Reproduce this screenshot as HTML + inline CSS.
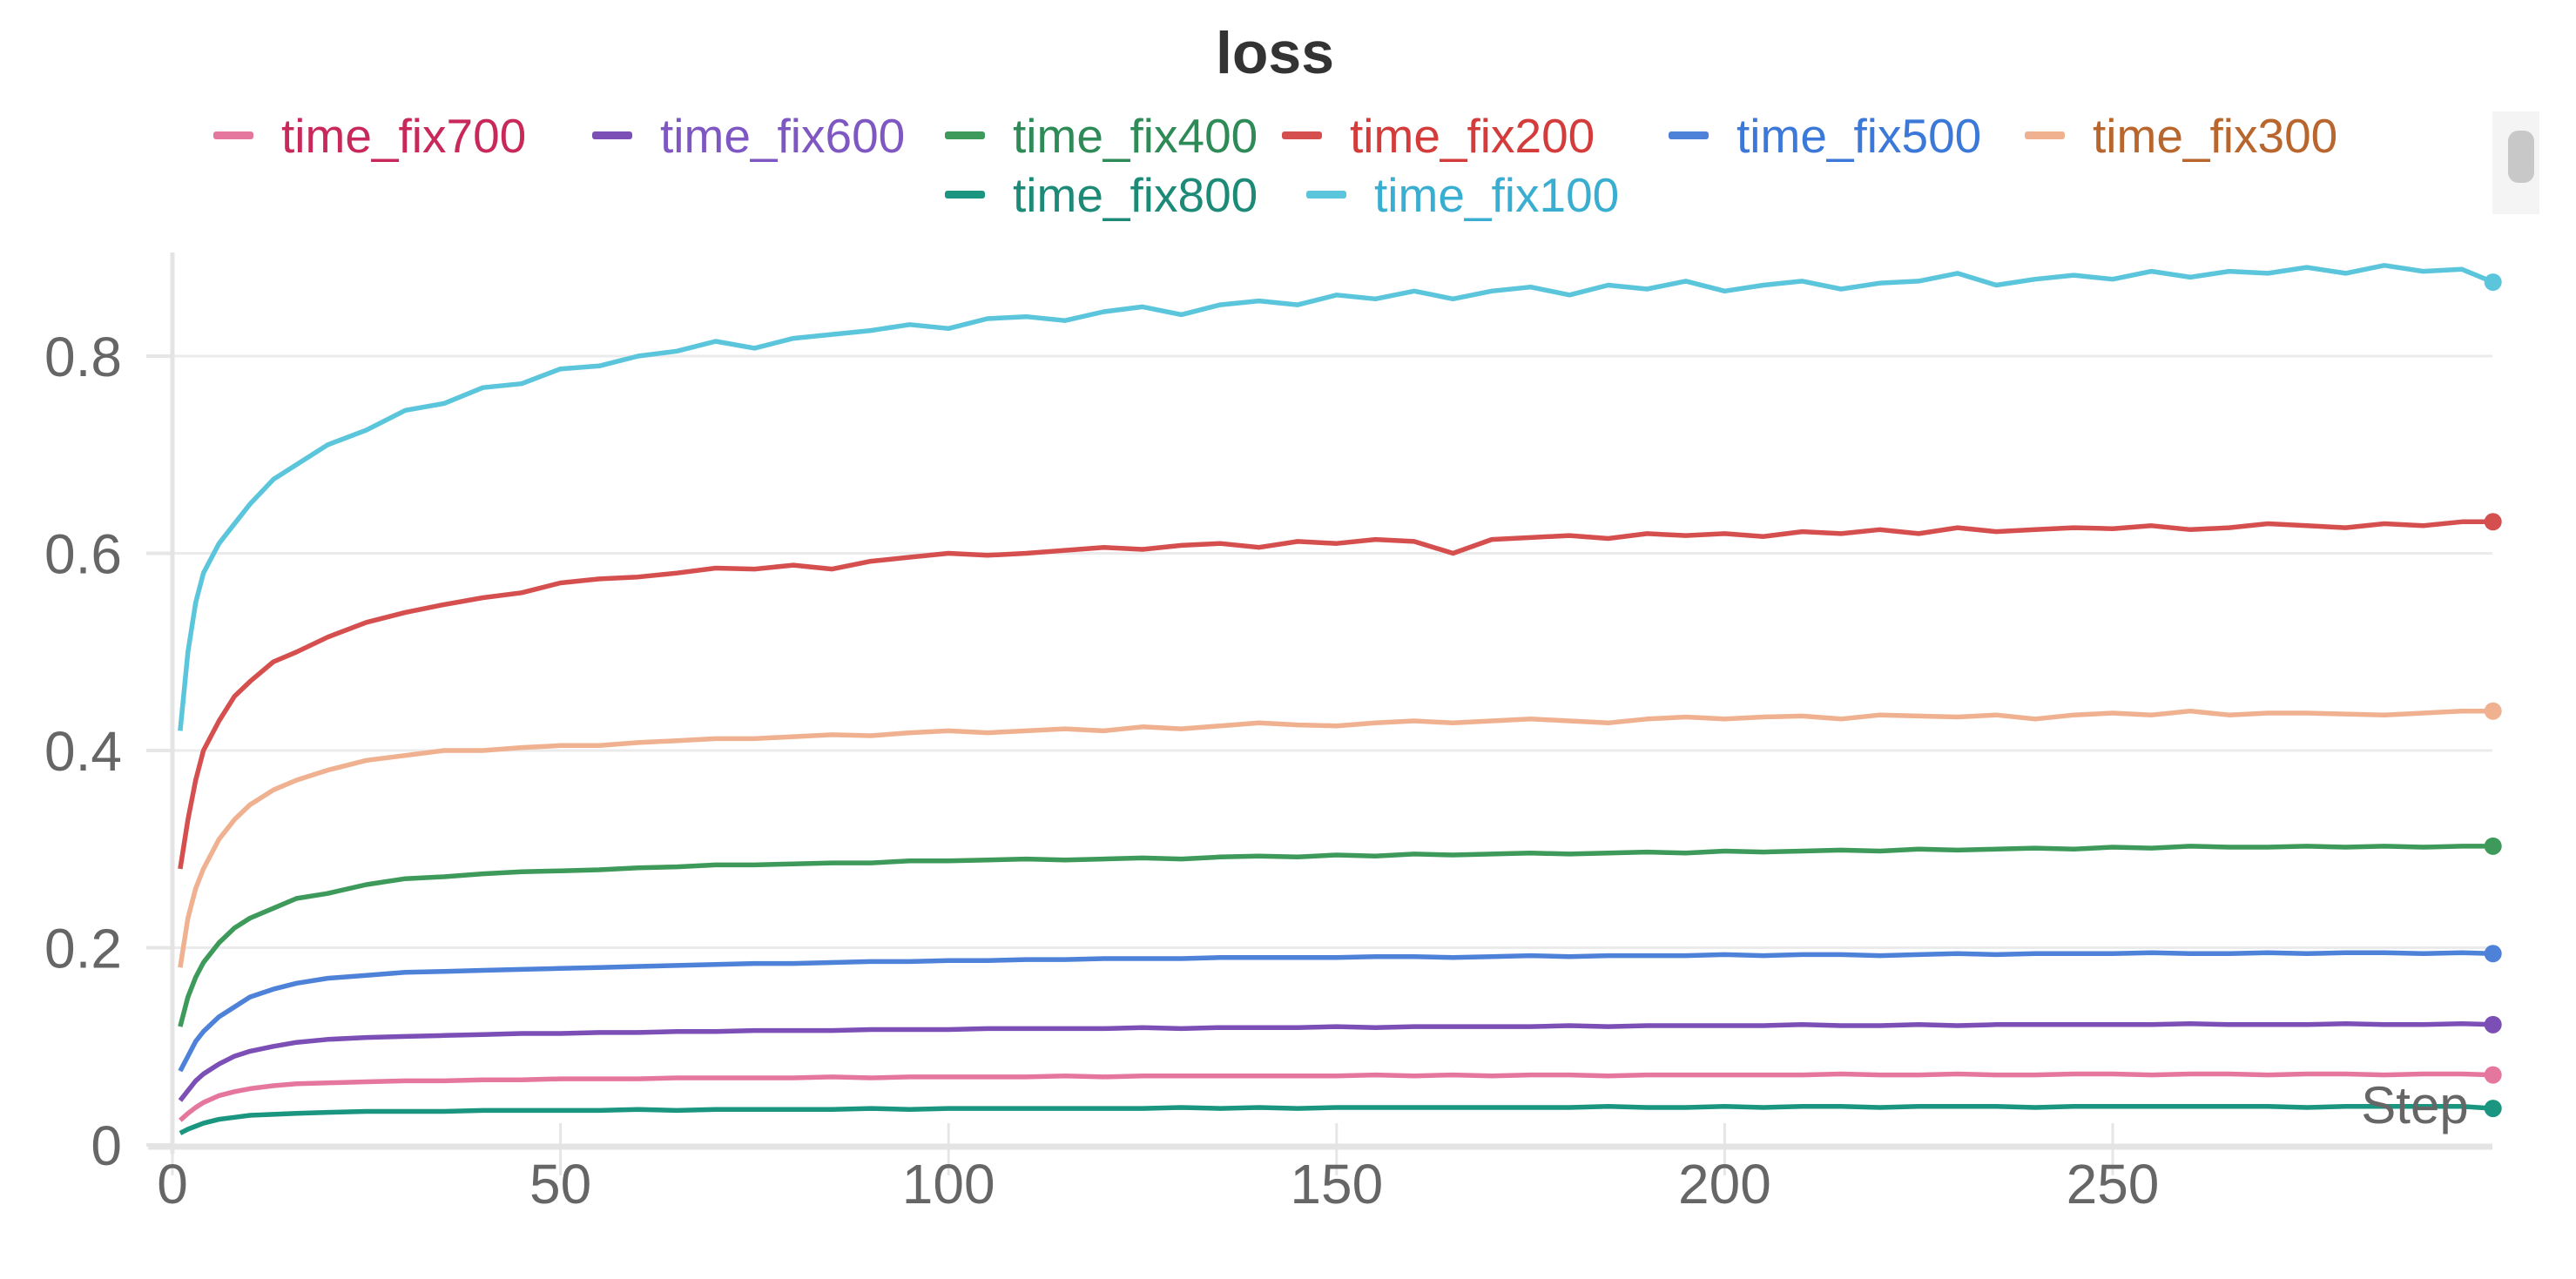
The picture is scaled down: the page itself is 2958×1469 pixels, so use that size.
<!DOCTYPE html>
<html><head><meta charset="utf-8"><style>
html,body{margin:0;padding:0;background:#fff;width:2958px;height:1469px;overflow:hidden}
svg{display:block}
text{font-family:"Liberation Sans",sans-serif}
</style></head><body>
<svg id="chart" width="2958" height="1469" viewBox="0 0 2958 1469" xmlns="http://www.w3.org/2000/svg">
<text x="1464" y="84" text-anchor="middle" font-size="68" font-weight="bold" fill="#333">loss</text>
<g id="legend"></g>
<g>
<rect x="2862" y="128" width="54" height="118" fill="#f4f4f4"/>
<rect x="2880" y="150" width="30" height="60" rx="12" fill="#c8c8c8"/>
</g>
<g id="grid"></g>
<g id="axes"></g>
<g id="series"></g>
<text x="2773" y="1290" text-anchor="middle" font-size="60" fill="#666">Step</text>
</svg>
<script>
const steps=[1,2,3,4,6,8,10,13,16,20,25,30,35,40,45,50,55,60,65,70,75,80,85,90,95,100,105,110,115,120,125,130,135,140,145,150,155,160,165,170,175,180,185,190,195,200,205,210,215,220,225,230,235,240,245,250,255,260,265,270,275,280,285,290,295,299];
const fix100=[.42,.50,.55,.58,.61,.63,.65,.675,.69,.71,.725,.745,.752,.768,.772,.787,.79,.80,.805,.815,.808,.818,.822,.826,.832,.828,.838,.84,.836,.845,.85,.842,.852,.856,.852,.862,.858,.866,.858,.866,.87,.862,.872,.868,.876,.866,.872,.876,.868,.874,.876,.884,.872,.878,.882,.878,.886,.88,.886,.884,.89,.884,.892,.886,.888,.875];
const fix200=[.28,.33,.37,.40,.43,.455,.47,.49,.50,.515,.53,.54,.548,.555,.56,.57,.574,.576,.58,.585,.584,.588,.584,.592,.596,.60,.598,.60,.603,.606,.604,.608,.61,.606,.612,.61,.614,.612,.60,.614,.616,.618,.615,.62,.618,.62,.617,.622,.62,.624,.62,.626,.622,.624,.626,.625,.628,.624,.626,.63,.628,.626,.63,.628,.632,.632];
const fix300=[.18,.23,.26,.28,.31,.33,.345,.36,.37,.38,.39,.395,.40,.40,.403,.405,.405,.408,.41,.412,.412,.414,.416,.415,.418,.42,.418,.42,.422,.42,.424,.422,.425,.428,.426,.425,.428,.43,.428,.43,.432,.43,.428,.432,.434,.432,.434,.435,.432,.436,.435,.434,.436,.432,.436,.438,.436,.44,.436,.438,.438,.437,.436,.438,.44,.44];
const fix400=[.12,.15,.17,.185,.205,.22,.23,.24,.25,.255,.264,.27,.272,.275,.277,.278,.279,.281,.282,.284,.284,.285,.286,.286,.288,.288,.289,.29,.289,.29,.291,.29,.292,.293,.292,.294,.293,.295,.294,.295,.296,.295,.296,.297,.296,.298,.297,.298,.299,.298,.30,.299,.30,.301,.30,.302,.301,.303,.302,.302,.303,.302,.303,.302,.303,.303];
const fix500=[.075,.09,.105,.115,.13,.14,.15,.158,.164,.169,.172,.175,.176,.177,.178,.179,.18,.181,.182,.183,.184,.184,.185,.186,.186,.187,.187,.188,.188,.189,.189,.189,.19,.19,.19,.19,.191,.191,.19,.191,.192,.191,.192,.192,.192,.193,.192,.193,.193,.192,.193,.194,.193,.194,.194,.194,.195,.194,.194,.195,.194,.195,.195,.194,.195,.194];
const fix600=[.045,.055,.065,.072,.082,.09,.095,.1,.104,.107,.109,.11,.111,.112,.113,.113,.114,.114,.115,.115,.116,.116,.116,.117,.117,.117,.118,.118,.118,.118,.119,.118,.119,.119,.119,.12,.119,.12,.12,.12,.12,.121,.12,.121,.121,.121,.121,.122,.121,.121,.122,.121,.122,.122,.122,.122,.122,.123,.122,.122,.122,.123,.122,.122,.123,.122];
const fix700=[.025,.032,.038,.043,.05,.054,.057,.06,.062,.063,.064,.065,.065,.066,.066,.067,.067,.067,.068,.068,.068,.068,.069,.068,.069,.069,.069,.069,.07,.069,.07,.07,.07,.07,.07,.07,.071,.07,.071,.07,.071,.071,.07,.071,.071,.071,.071,.071,.072,.071,.071,.072,.071,.071,.072,.072,.071,.072,.072,.071,.072,.072,.071,.072,.072,.071];
const fix800=[.012,.016,.019,.022,.026,.028,.03,.031,.032,.033,.034,.034,.034,.035,.035,.035,.035,.036,.035,.036,.036,.036,.036,.037,.036,.037,.037,.037,.037,.037,.037,.038,.037,.038,.037,.038,.038,.038,.038,.038,.038,.038,.039,.038,.038,.039,.038,.039,.039,.038,.039,.039,.039,.038,.039,.039,.039,.039,.039,.039,.038,.039,.039,.039,.039,.037];
const seriesNames=["time_fix700","time_fix600","time_fix400","time_fix200","time_fix500","time_fix300","time_fix800","time_fix100"];
const yTicks=[0,0.2,0.4,0.6,0.8];
const xTicks=[0,50,100,150,200,250];

const NS="http://www.w3.org/2000/svg";
const X0=198,XPX=8.912,Y0=1315,YPX=1132.5;
const xs=v=>X0+v*XPX, ys=v=>Y0-v*YPX;
function mk(tag,attrs,parent){const e=document.createElementNS(NS,tag);for(const k in attrs)e.setAttribute(k,attrs[k]);parent.appendChild(e);return e;}
const styles={
 time_fix700:{data:fix700,line:"#e5779e",text:"#c8285a"},
 time_fix600:{data:fix600,line:"#7b4fb5",text:"#7e57c2"},
 time_fix400:{data:fix400,line:"#3d9a5a",text:"#2e8b57"},
 time_fix200:{data:fix200,line:"#d64f4f",text:"#d43b3b"},
 time_fix500:{data:fix500,line:"#4e82d9",text:"#3b78d8"},
 time_fix300:{data:fix300,line:"#efb18f",text:"#b8662e"},
 time_fix800:{data:fix800,line:"#1a9580",text:"#1d8a78"},
 time_fix100:{data:fix100,line:"#5bc5db",text:"#3aaed0"}
};
const grid=document.getElementById('grid'),axes=document.getElementById('axes'),ser=document.getElementById('series'),leg=document.getElementById('legend');
yTicks.forEach(t=>{
 if(t>0){const g=mk('line',{x1:X0,x2:2862,y1:ys(t),y2:ys(t),stroke:"#ebebeb","stroke-width":3},grid);
 
 }
 const tk=mk('line',{x1:168,x2:X0,y1:ys(t),y2:ys(t),stroke:"#e6e6e6","stroke-width":4},axes);
 
 
 const lb=mk('text',{x:140,y:ys(t)+23,"text-anchor":"end","font-size":64,fill:"#666"},axes);
 lb.textContent=String(t);
 
 
});
xTicks.forEach(t=>{
 const tk=mk('line',{x1:xs(t),x2:xs(t),y1:Y0-25,y2:Y0+35,stroke:"#e6e6e6","stroke-width":3},axes);
 
 
 const lb=mk('text',{x:xs(t),y:1382,"text-anchor":"middle","font-size":64,fill:"#666"},axes);
 lb.textContent=String(t);
 
 
});
const ya=mk('line',{x1:X0,x2:X0,y1:290,y2:1325,stroke:"#e4e4e4","stroke-width":5},axes);


const xa=mk('line',{x1:170,x2:2862,y1:Y0+2,y2:Y0+2,stroke:"#e4e4e4","stroke-width":7},axes);



const order=["time_fix100","time_fix200","time_fix300","time_fix400","time_fix500","time_fix600","time_fix700","time_fix800"];
order.forEach(n=>{
 const s=styles[n];
 const d=steps.map((st,i)=>(i?'L':'M')+xs(st).toFixed(1)+','+ys(s.data[i]).toFixed(1)).join(' ');
 const p=mk('path',{d:d,fill:"none",stroke:s.line,"stroke-width":5.5,"stroke-linejoin":"round"},ser);
 
 
 const li=steps.length-1;
 const c=mk('circle',{cx:xs(steps[li]),cy:ys(s.data[li]),r:10,fill:s.line},ser);
 
 
});
const legPos=[[245,155],[680,155],[1085,155],[1472,155],[1916,155],[2325,155],[1085,223],[1500,223]];
seriesNames.forEach((n,i)=>{
 const [x,y]=legPos[i];const s=styles[n];
 const g=mk('g',{},leg);
 
 
 mk('rect',{x:x,y:y-4,width:46,height:9,rx:3,fill:s.line},g);
 const t=mk('text',{x:x+78,y:y+20,"font-size":55,fill:s.text},g);
 t.textContent=n;
});
</script>
</body></html>
